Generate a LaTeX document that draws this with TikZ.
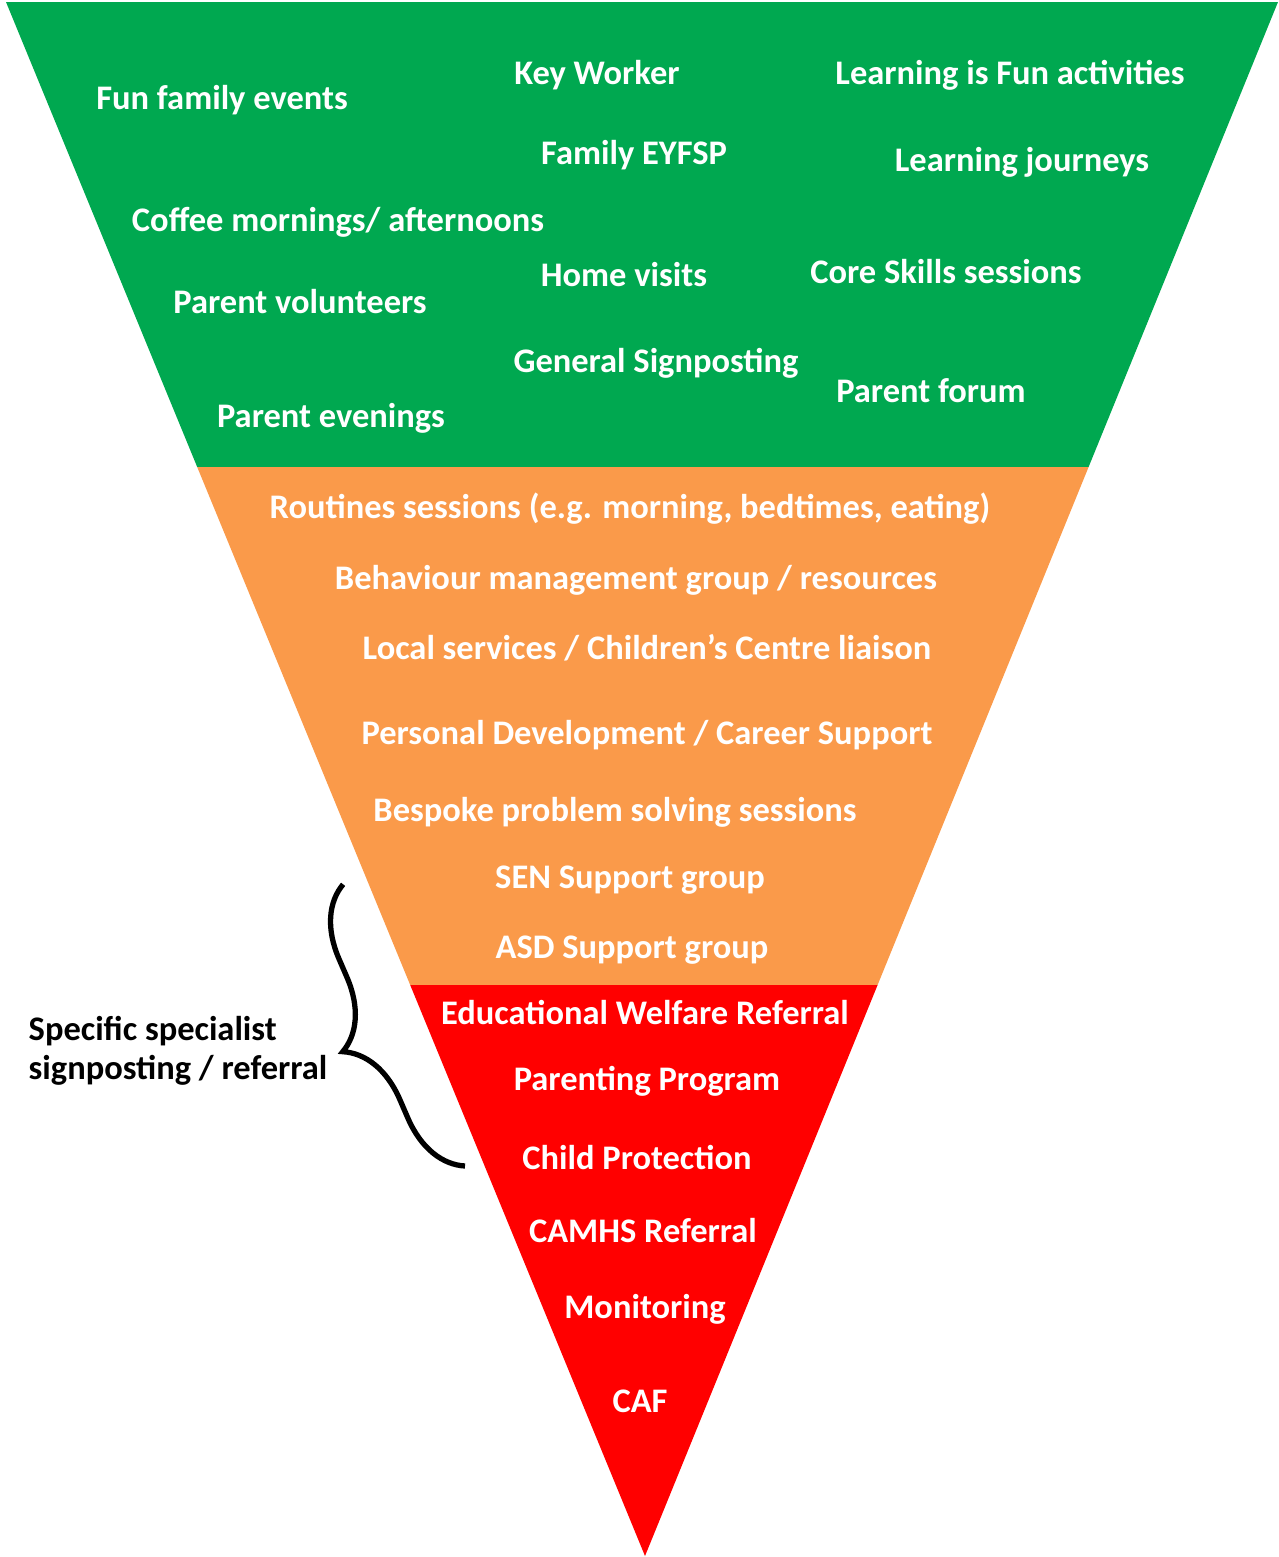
\documentclass[tikz,border=0pt]{standalone}
\usepackage{fontspec}
\setmainfont{Carlito}
\usetikzlibrary{decorations.pathreplacing}
\definecolor{tiergreen}{RGB}{0,168,80}
\definecolor{tierorange}{RGB}{250,154,74}
\definecolor{tierred}{RGB}{255,0,0}

\begin{document}
\begin{tikzpicture}[x=0.01cm, y=-0.01cm,
    item/.style={text=white, anchor=base, inner sep=0pt,
      font=\fontsize{9.8}{12}\selectfont\bfseries},
    note/.style={text=black, anchor=base west, inner sep=0pt,
      font=\fontsize{9.8}{12}\selectfont\bfseries}]
\useasboundingbox (0,0) rectangle (1279,1557);

\coordinate (topleft) at (6,2);
\coordinate (topright) at (1278,2);
\coordinate (apex) at (645,1556);

% the three tiers, cut out of one triangle
\begin{scope}
\clip (topleft) -- (topright) -- (apex) -- cycle;
\fill [tiergreen] (0,0) rectangle (1279,467);
\fill [tierorange] (0,467) rectangle (1279,985);
\fill [tierred] (0,985) rectangle (1279,1557);
\end{scope}

% green tier
\path (222,109) node (funevents) [item] {Fun family events};
\path (597,84) node (keyworker) [item] {Key Worker};
\path (1010,84) node (learnfun) [item] {Learning is Fun activities};
\path (634,164) node (eyfsp) [item] {Family EYFSP};
\path (1022,171) node (journeys) [item] {Learning journeys};
\path (338,231) node (coffee) [item] {Coffee mornings/ afternoons};
\path (624,286) node (homevisits) [item] {Home visits};
\path (946,283) node (coreskills) [item] {Core Skills sessions};
\path (300,313) node (volunteers) [item] {Parent volunteers};
\path (656,372) node (signposting) [item] {General Signposting};
\path (931,402) node (forum) [item] {Parent forum};
\path (331,427) node (evenings) [item] {Parent evenings};

% orange tier
\path (630,518) node (routines) [item]
  {Routines sessions (e.g. morning, bedtimes, eating)};
\path (636,589) node (behaviour) [item]
  {Behaviour management group / resources};
\path (647,659) node (localserv) [item]
  {Local services / Children’s Centre liaison};
\path (647,744) node (career) [item]
  {Personal Development / Career Support};
\path (615,821) node (bespoke) [item]
  {Bespoke problem solving sessions};
\path (630,888) node (sengroup) [item] {SEN Support group};
\path (632,958) node (asdgroup) [item] {ASD Support group};

% red tier
\path (645,1024) node (welfare) [item] {Educational Welfare Referral};
\path (647,1090) node (parenting) [item] {Parenting Program};
\path (637,1169) node (protection) [item] {Child Protection};
\path (643,1242) node (camhs) [item] {CAMHS Referral};
\path (645,1318) node (monitoring) [item] {Monitoring};
\path (640,1412) node (caf) [item] {CAF};

% brace over the specialist part
\coordinate (bracelow) at (465,1166);
\coordinate (bracehigh) at (343,884);
\draw [line width=1.5pt, decorate, decoration={brace, amplitude=19pt}]
  (bracelow) -- (bracehigh);
\path (28,1040) node (specific) [note] {Specific specialist};
\path (28,1079) node (referral) [note] {signposting / referral};

\end{tikzpicture}
\end{document}
